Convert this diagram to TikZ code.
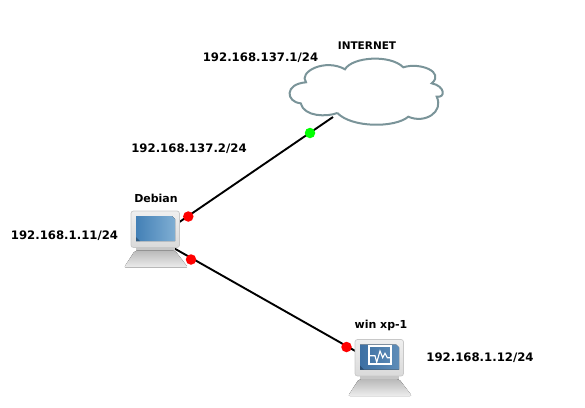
\documentclass[tikz,border=0pt]{standalone}
\usepackage{fontspec}
\setmainfont{DejaVu Sans}
\definecolor{cloudline}{HTML}{7A9499}
\definecolor{debL}{HTML}{4380B6}
\definecolor{debR}{HTML}{7FAED3}
\definecolor{winL}{HTML}{3D70A3}
\definecolor{winR}{HTML}{5F8DB8}
\definecolor{bodyT}{HTML}{EFEFEF}
\definecolor{bodyB}{HTML}{DADADA}
\definecolor{bodyE}{HTML}{C8C8C8}
\definecolor{kbT}{HTML}{B9B9B9}
\definecolor{kbB}{HTML}{EDEDED}
\tikzset{
  lab/.style={font=\fontsize{11}{13}\selectfont\bfseries, text=black, inner sep=0pt, anchor=center},
  iplab/.style={font=\fontsize{11.7}{13}\selectfont\bfseries, text=black, inner sep=0pt, anchor=center},
  link/.style={draw=black, line width=1.9pt},
  dot/.style={circle, inner sep=0pt, minimum size=10.5pt},
  reddot/.style={dot, fill=red},
  greendot/.style={dot, fill=green},
  pics/computer/.style 2 args={code={
    \draw[bodyE, line width=0.7pt, top color=bodyT, bottom color=bodyB, rounded corners=2.5pt] (-25,-27) rectangle (23.5,9.5);
    \fill[left color=#1, right color=#2] (-20,-22) -- (16,-22) -- (19,-19) -- (19,3) -- (-20,3) -- cycle;
    \fill[#1!70!black] (-20,3) -- (-20,-1) -- (-16,3) -- cycle;
    \fill[kbT!80!white] (-20,9.5) rectangle (19,13.5);
    \fill[top color=kbT, bottom color=kbB, rounded corners=2pt] (-21,12.5) -- (19,12.5) -- (32,29.5) -- (-32,29.5) -- cycle;
  }}
}
\begin{document}
\begin{tikzpicture}[x=1pt,y=-1pt]
\useasboundingbox (0,0) rectangle (585,407);
\coordinate (cloudc) at (333,117);
\coordinate (deb) at (156,238);
\coordinate (win) at (380,365);
\draw[link] (deb) -- (cloudc);
\draw[link] (deb) -- (win);
% cloud
\draw[cloudline, line width=2pt, fill=white]
  (337.3,113)
  .. controls (327,117) and (304,117) .. (300.7,103.3)
  .. controls (286,102) and (284,84) .. (306,82.3)
  .. controls (298,72) and (325,58) .. (345,69.3)
  .. controls (352,57) and (390,54) .. (403.3,67.3)
  .. controls (420,62) and (445,72) .. (431.7,83.3)
  .. controls (445,86) and (446,98) .. (436.7,96.7)
  .. controls (444,112) and (425,124) .. (408.3,116.7)
  .. controls (395,128) and (352,128) .. (337.3,113);
% icons
\pic at (156,238) {computer={debL}{debR}};
\pic at (380,366.5) {computer={winL}{winR}};
\draw[white, line width=1.3pt] (369,346) rectangle (391,364);
\draw[white, line width=1.1pt] (370,355.7) -- (375,355.7) -- (376.7,362.3) -- (380,351) -- (382.7,357.7) -- (385,353.3) -- (387.3,357.7) -- (390,357.7);
% dots
\node[greendot] (d1) at (310,133) {};
\node[reddot] (d2) at (188.3,216.5) {};
\node[reddot] (d3) at (191,259.5) {};
\node[reddot] (d4) at (346.5,347) {};
% labels
\node[lab, font=\fontsize{10.5}{13}\selectfont\bfseries] (l1) at (367,46) {INTERNET};
\node[iplab] (l2) at (260.5,57.5) {192.168.137.1/24};
\node[iplab] (l3) at (189,148.5) {192.168.137.2/24};
\node[lab] (l4) at (156,198) {Debian};
\node[iplab] (l5) at (64.5,235.5) {192.168.1.11/24};
\node[lab] (l6) at (381,325.5) {win xp-1};
\node[iplab] (l7) at (480,357.5) {192.168.1.12/24};
\end{tikzpicture}
\end{document}
